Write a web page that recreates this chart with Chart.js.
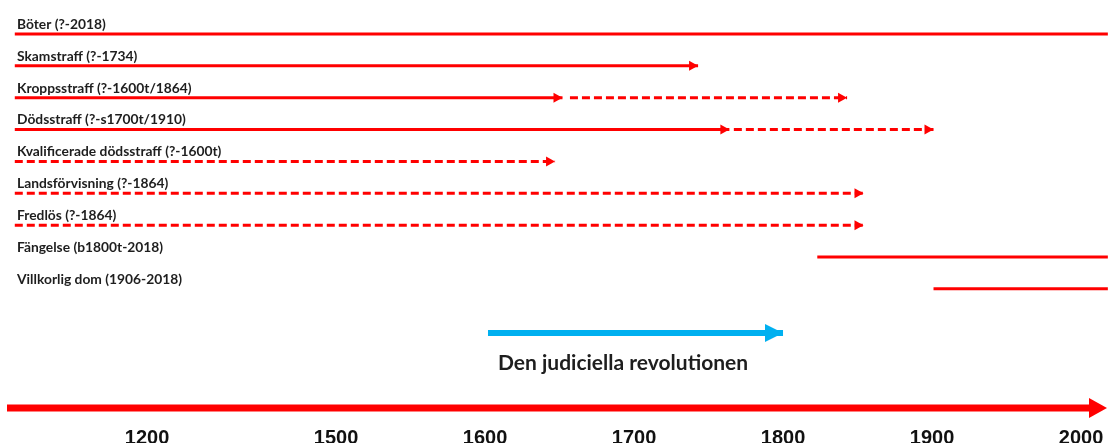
<!DOCTYPE html>
<html>
<head>
<meta charset="utf-8">
<script src="https://cdn.jsdelivr.net/npm/chart.js@4.4.1/dist/chart.umd.min.js"></script>
<style>
  html, body { margin: 0; padding: 0; background: #ffffff; }
  #wrap { width: 1108px; height: 443px; position: relative; }
</style>
</head>
<body>
<div id="wrap"><canvas id="c"></canvas></div>
<script>
// ---- data ----
const rowLabels = [
  'Böter (?-2018)',
  'Skamstraff (?-1734)',
  'Kroppsstraff (?-1600t/1864)',
  'Dödsstraff (?-s1700t/1910)',
  'Kvalificerade dödsstraff (?-1600t)',
  'Landsförvisning (?-1864)',
  'Fredlös (?-1864)',
  'Fängelse (b1800t-2018)',
  'Villkorlig dom (1906-2018)'
];
// segments (year values; 990 = unknown start "?")
const segRow    = [0,    1,    2,    2,    3,    3,    4,    5,    6,    7,    8];
const segStart  = [990,  990,  990,  1657, 990,  1767, 990,  990,  990,  1823, 1901];
const segEnd    = [2018, 1743, 1652, 1843, 1764, 1901, 1647, 1854, 1854, 2018, 2018];
const segDashed = [0,    0,    0,    1,    0,    1,    1,    1,    1,    0,    0];
const segArrow  = [0,    1,    1,    1,    1,    1,    1,    1,    1,    0,    0];

const revolutionYears = [1602, 1800];
const revolutionLabel = 'Den judiciella revolutionen';

const tickYears  = [1200, 1500, 1600, 1700, 1800, 1900, 2000];
const tickLabels = ['1200', '1500', '1600', '1700', '1800', '1900', '2000'];

// ---- axis: years before 1500 are compressed on the time line ----
const BREAK_YEAR = 1500, COMPRESS = 0.4227;
const axisPos = y => (y >= BREAK_YEAR ? y : BREAK_YEAR - (BREAK_YEAR - y) * COMPRESS);

const RED = '#ff0000', BLUE = '#00b0f0', TEXT = '#1e1e1e';
const REV_ROW = 9.385, REV_TEXT_ROW = 10.33;

const datasets = segRow.map((r, i) => ({
  data: [{ x: axisPos(segStart[i]), y: r }, { x: axisPos(segEnd[i]), y: r }],
  showLine: true,
  borderColor: RED,
  borderWidth: 3,
  borderDash: segDashed[i] ? [8, 4] : [],
  borderCapStyle: 'butt',
  pointRadius: 0,
  pointHoverRadius: 0,
  arrow: segArrow[i] ? { len: 9, half: 5, color: RED } : null
}));
datasets.push({
  data: [{ x: axisPos(revolutionYears[0]), y: REV_ROW }, { x: axisPos(revolutionYears[1]), y: REV_ROW }],
  showLine: true,
  borderColor: BLUE,
  borderWidth: 6,
  borderCapStyle: 'butt',
  pointRadius: 0,
  pointHoverRadius: 0,
  arrow: { len: 18, half: 9, color: BLUE }
});

const decorPlugin = {
  id: 'decor',
  afterDatasetsDraw(chart) {
    const ctx = chart.ctx;
    const xs = chart.scales.x, ys = chart.scales.y;
    // arrowheads
    chart.data.datasets.forEach((ds, i) => {
      if (!ds.arrow) return;
      const meta = chart.getDatasetMeta(i);
      const p = meta.data[meta.data.length - 1];
      ctx.save();
      ctx.fillStyle = ds.arrow.color;
      ctx.beginPath();
      ctx.moveTo(p.x, p.y);
      ctx.lineTo(p.x - ds.arrow.len, p.y - ds.arrow.half);
      ctx.lineTo(p.x - ds.arrow.len, p.y + ds.arrow.half);
      ctx.closePath();
      ctx.fill();
      ctx.restore();
    });
    // row labels
    ctx.save();
    ctx.fillStyle = TEXT;
    ctx.font = 'bold 13.8px Lato, "Open Sans", sans-serif';
    ctx.textAlign = 'left';
    ctx.textBaseline = 'middle';
    rowLabels.forEach((lab, r) => {
      ctx.fillText(lab, 17, ys.getPixelForValue(r) - 9.5);
    });
    // revolution label
    ctx.font = 'bold 21px Lato, "Open Sans", sans-serif';
    ctx.fillText(revolutionLabel, xs.getPixelForValue(axisPos(revolutionYears[0])) + 10, ys.getPixelForValue(REV_TEXT_ROW));
    ctx.restore();
    // time axis arrow line
    const yb = chart.chartArea.bottom;
    ctx.save();
    ctx.strokeStyle = RED;
    ctx.lineWidth = 7;
    ctx.beginPath();
    ctx.moveTo(7, yb);
    ctx.lineTo(1092, yb);
    ctx.stroke();
    ctx.fillStyle = RED;
    ctx.beginPath();
    ctx.moveTo(1107, yb);
    ctx.lineTo(1089, yb - 10);
    ctx.lineTo(1089, yb + 10);
    ctx.closePath();
    ctx.fill();
    ctx.restore();
  }
};

new Chart(document.getElementById('c'), {
  type: 'scatter',
  data: { datasets },
  options: {
    responsive: true,
    maintainAspectRatio: false,
    animation: false,
    layout: { padding: 0 },
    plugins: { legend: { display: false }, tooltip: { enabled: false } },
    events: [],
    scales: {
      x: {
        type: 'linear',
        position: 'bottom',
        min: 1274.5,
        max: 2018.1,
        grid: { display: false },
        border: { display: false },
        afterBuildTicks: s => { s.ticks = tickYears.map(y => ({ value: axisPos(y) })); },
        afterFit: s => { s.height = 35; s.paddingLeft = 0; s.paddingRight = 0; },
        ticks: {
          autoSkip: false,
          maxRotation: 0,
          padding: 10,
          color: '#111111',
          font: { family: '"Liberation Sans", Arial, sans-serif', size: 20, weight: 'bold' },
          callback: (v, i) => tickLabels[i]
        }
      },
      y: {
        type: 'linear',
        display: false,
        reverse: true,
        min: -1.0637,
        max: 11.738
      }
    }
  },
  plugins: [decorPlugin]
});
</script>
</body>
</html>
